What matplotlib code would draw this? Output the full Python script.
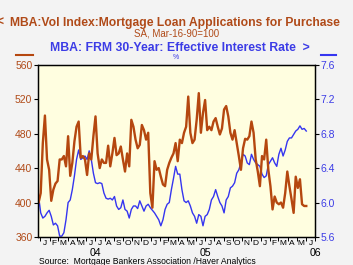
import numpy as np
import pandas as pd
import matplotlib
matplotlib.use("Agg")
import matplotlib.pyplot as plt
import matplotlib.transforms as mtransforms

plt.rcParams['font.family'] = ['Liberation Sans', 'DejaVu Sans']

# weekly data, week ending Friday
start = '2003-12-26'
purchase_index = [
    400, 411, 469, 501, 450, 438, 402, 415, 422, 425,
    450, 450, 454, 442, 477, 431, 446, 471, 488, 494,
    452, 454, 450, 432, 457, 450, 477, 500, 457, 440,
    450, 446, 446, 466, 442, 457, 475, 455, 457, 465,
    450, 436, 457, 442, 496, 488, 473, 463, 467, 490,
    484, 473, 481, 411, 394, 448, 438, 440, 430, 421,
    419, 438, 446, 452, 457, 469, 448, 473, 469, 481,
    488, 523, 481, 469, 473, 496, 527, 481, 504, 519,
    484, 488, 484, 494, 498, 488, 479, 486, 508, 512,
    500, 481, 473, 484, 469, 454, 438, 463, 474, 473,
    477, 494, 481, 450, 436, 419, 454, 450, 473, 438,
    419, 392, 407, 400, 398, 400, 394, 411, 436, 419,
    404, 388, 430, 417, 427, 398, 396, 396,
]
frm_rate = [
    6.07, 5.88, 5.82, 5.84, 5.88, 5.91, 5.84, 5.74, 5.76, 5.73,
    5.61, 5.61, 5.65, 5.80, 6.00, 6.03, 6.15, 6.31, 6.50, 6.61,
    6.50, 6.52, 6.54, 6.50, 6.60, 6.50, 6.34, 6.23, 6.22, 6.23,
    6.22, 6.11, 6.05, 6.04, 6.05, 6.03, 6.07, 5.96, 5.92, 5.94,
    6.03, 5.92, 5.90, 5.82, 5.92, 5.96, 5.96, 5.93, 6.02, 5.96,
    5.90, 5.96, 5.98, 5.94, 5.91, 5.88, 5.84, 5.80, 5.73, 5.80,
    5.92, 5.98, 6.00, 6.15, 6.28, 6.42, 6.33, 6.33, 6.15, 6.02,
    6.00, 6.02, 5.96, 5.88, 5.84, 5.76, 5.86, 5.84, 5.73, 5.84,
    5.86, 5.92, 6.03, 6.07, 6.15, 6.07, 6.00, 5.96, 5.88, 6.03,
    6.07, 6.17, 6.19, 6.23, 6.34, 6.38, 6.46, 6.56, 6.54, 6.46,
    6.44, 6.56, 6.50, 6.46, 6.44, 6.42, 6.33, 6.29, 6.31, 6.44,
    6.48, 6.52, 6.46, 6.42, 6.56, 6.63, 6.54, 6.61, 6.71, 6.75,
    6.75, 6.79, 6.83, 6.85, 6.89, 6.85, 6.86, 6.83,
]
dates = pd.date_range(start, periods=len(purchase_index), freq='7D')

left_ticks = [360, 400, 440, 480, 520, 560]
right_ticks = [5.6, 6.0, 6.4, 6.8, 7.2, 7.6]
month_letters = list('JFMAMJJASOND') * 2 + list('JFMAMJ')
years = ['04', '05', '06']

brown = '#b5470f'
blue = '#3535f0'
brown_txt = '#b04a18'
blue_txt = '#3c3ce6'

W, H = 353, 265
fig = plt.figure(figsize=(W / 100, H / 100), dpi=100, facecolor='#f3f3f3')
ax2 = fig.add_axes([38 / W, 1 - 237 / H, 277 / W, 172.3 / H])
ax = ax2.twinx()
ax2.yaxis.tick_right()
ax.yaxis.tick_left()
ax.set_zorder(ax2.get_zorder() + 1)
ax.patch.set_visible(False)
ax2.set_facecolor('#fffee0')

ax2.plot(dates, frm_rate, color=blue, lw=1.0)
ax.plot(dates, purchase_index, color=brown, lw=1.7)

ax.set_ylim(360, 560)
ax2.set_ylim(5.6, 7.6)
xmin, xmax = pd.Timestamp('2003-12-24'), pd.Timestamp('2006-07-01')
ax.set_xlim(xmin, xmax)

ax.set_yticks(left_ticks)
ax.set_yticklabels([str(v) for v in left_ticks], color=brown_txt, fontsize=7.5)
ax2.set_yticks(right_ticks)
ax2.set_yticklabels(['%.1f' % v for v in right_ticks], color=blue_txt, fontsize=7.5)
ax.tick_params(axis='y', direction='out', length=3, width=0.8, pad=1)
ax2.tick_params(axis='y', direction='out', length=3, width=0.8, pad=1)

month_starts = pd.date_range('2004-01-01', '2006-07-01', freq='MS')
ax2.set_xticks(month_starts)
ax2.set_xticklabels([])
ax2.tick_params(axis='x', direction='out', length=3, width=0.7)
ax.tick_params(axis='x', bottom=False, labelbottom=False)

trans = mtransforms.blended_transform_factory(ax.transData, fig.transFigure)
for i, letter in enumerate(month_letters):
    mid = month_starts[i] + pd.Timedelta(days=15)
    ax.text(mid, 1 - 243.5 / H, letter, transform=trans, ha='center', va='center',
            fontsize=6, color='black')
for k, yr in enumerate(years):
    ax.text(pd.Timestamp('%d-07-01' % (2004 + k)), 1 - 252.5 / H, yr, transform=trans,
            ha='center', va='center', fontsize=7.6, color='black')

for a in (ax, ax2):
    for s in a.spines.values():
        s.set_linewidth(0.9)
        s.set_color('black')

fig.text(10 / W, 1 - 23 / H, 'MBA:Vol Index:Mortgage Loan Applications for Purchase',
         color=brown_txt, fontsize=8.7, fontweight='bold', ha='left', va='center')
fig.text(3 / W, 1 - 23 / H, '<', color=brown_txt, fontsize=8.7, fontweight='bold',
         ha='right', va='center')
fig.text(177 / W, 1 - 34 / H, 'SA, Mar-16-90=100', color=brown_txt, fontsize=7,
         ha='center', va='center')
fig.text(50 / W, 1 - 48 / H, 'MBA: FRM 30-Year: Effective Interest Rate  >',
         color=blue_txt, fontsize=8.8, fontweight='bold', ha='left', va='center')
fig.text(176 / W, 1 - 57.5 / H, '%', color=blue_txt, fontsize=5,
         ha='center', va='center')
fig.add_artist(plt.Line2D([16 / W, 33 / W], [1 - 54.5 / H] * 2, color=brown, lw=1.5))
fig.add_artist(plt.Line2D([321 / W, 336 / W], [1 - 54.5 / H] * 2, color=blue, lw=1.5))
fig.text(39 / W, 1 - 261.3 / H, 'Source:  Mortgage Bankers Association /Haver Analytics',
         color='black', fontsize=6.2, ha='left', va='center')

fig.savefig('out.png', dpi=100, facecolor=fig.get_facecolor())
